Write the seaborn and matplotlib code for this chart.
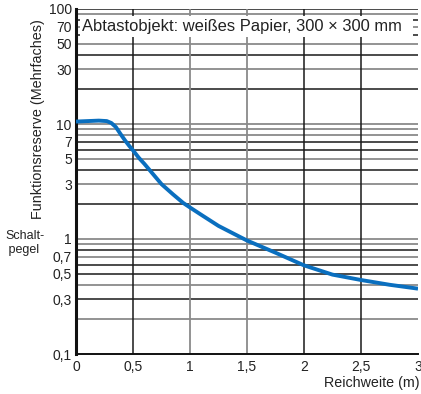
import numpy as np
import seaborn as sns
import matplotlib.pyplot as plt
from matplotlib.patches import Rectangle

# curve
reichweite = [0, 0.1, 0.2, 0.27, 0.31, 0.35, 0.39, 0.43, 0.47, 0.5, 0.55, 0.6,
              0.75, 0.85, 0.94, 1.0, 1.1, 1.25, 1.4, 1.5, 1.75, 2.0, 2.25,
              2.5, 2.75, 3.0]
reserve = [10.5, 10.6, 10.7, 10.6, 10.2, 9.4, 8.2, 7.2, 6.4, 5.9, 5.1, 4.5,
           3.0, 2.45, 2.06, 1.88, 1.62, 1.3, 1.09, 0.97, 0.76, 0.59, 0.49,
           0.44, 0.40, 0.37]

y_ticks = [0.1, 0.3, 0.5, 0.7, 1, 3, 5, 7, 10, 30, 50, 70, 100]
y_labels = ['0,1', '0,3', '0,5', '0,7', '1', '3', '5', '7', '10', '30', '50', '70', '100']
x_ticks = [0, 0.5, 1, 1.5, 2, 2.5, 3]
x_labels = ['0', '0,5', '1', '1,5', '2', '2,5', '3']

# horizontal grid lines (black / grey as in the scan)
grid_dark = [0.3, 0.5, 0.6, 0.8, 2, 4, 6, 7, 20, 40, 60, 80, 100]
grid_grey = [0.2, 0.4, 0.7, 0.9, 1, 3, 5, 8, 9, 10, 30, 50, 70, 90]
vgrid_dark = [0.5, 2, 2.5]
vgrid_grey = [1, 1.5]

sns.set_style('white')
plt.rcParams['font.family'] = ['Liberation Sans', 'DejaVu Sans']

fig = plt.figure(figsize=(4.21, 3.94), dpi=100)
ax = fig.add_axes([76 / 421, 1 - 354 / 394, 342 / 421, 345 / 394])

for v in grid_dark:
    ax.axhline(v, color='#1a1a1a', lw=1.1, zorder=1)
for v in grid_grey:
    ax.axhline(v, color='#8a8a8a', lw=1.3, zorder=1)
for v in vgrid_dark:
    ax.axvline(v, color='#1a1a1a', lw=1.1, zorder=1)
for v in vgrid_grey:
    ax.axvline(v, color='#8a8a8a', lw=1.3, zorder=1)

sns.lineplot(x=reichweite, y=reserve, ax=ax, color='#0a6fbf', lw=2.8, zorder=3,
             solid_joinstyle='round', solid_capstyle='butt')

ax.set_yscale('log')
ax.set_xlim(0, 3)
ax.set_ylim(0.1, 100)
ax.set_yticks(y_ticks)
ax.set_yticklabels(y_labels)
ax.set_xticks(x_ticks)
ax.set_xticklabels(x_labels)
ax.minorticks_off()
ax.tick_params(length=0, labelsize=10, colors='#222222', pad=3)
ax.tick_params(axis='x', pad=4)

for s in ['top', 'right']:
    ax.spines[s].set_visible(False)
ax.spines['left'].set_linewidth(2.2)
ax.spines['bottom'].set_linewidth(1.4)
ax.spines['left'].set_color('#111111')
ax.spines['bottom'].set_color('#111111')

# white label box over the top grid lines
ax.add_patch(Rectangle((4 / 342, (354 - 37) / 345), 333 / 342, 21 / 345,
                       transform=ax.transAxes, facecolor='white',
                       edgecolor='none', zorder=4))
ax.text(6 / 342, (354 - 26) / 345, 'Abtastobjekt: weißes Papier, 300 × 300 mm',
        transform=ax.transAxes, fontsize=11.9, va='center', ha='left',
        color='#222222', zorder=5)

fig.text(38 / 421, 1 - 119 / 394, 'Funktionsreserve (Mehrfaches)', rotation=90,
         ha='center', va='center', fontsize=10.4, color='#222222')
fig.text(5 / 421, 1 - 243 / 394, 'Schalt-\n pegel', ha='left', va='center',
         fontsize=9, color='#222222', linespacing=1.2)
fig.text(420 / 421, 1 - 383 / 394, 'Reichweite (m)', ha='right', va='center',
         fontsize=10.3, color='#222222')

fig.savefig('out.png', dpi=100)
